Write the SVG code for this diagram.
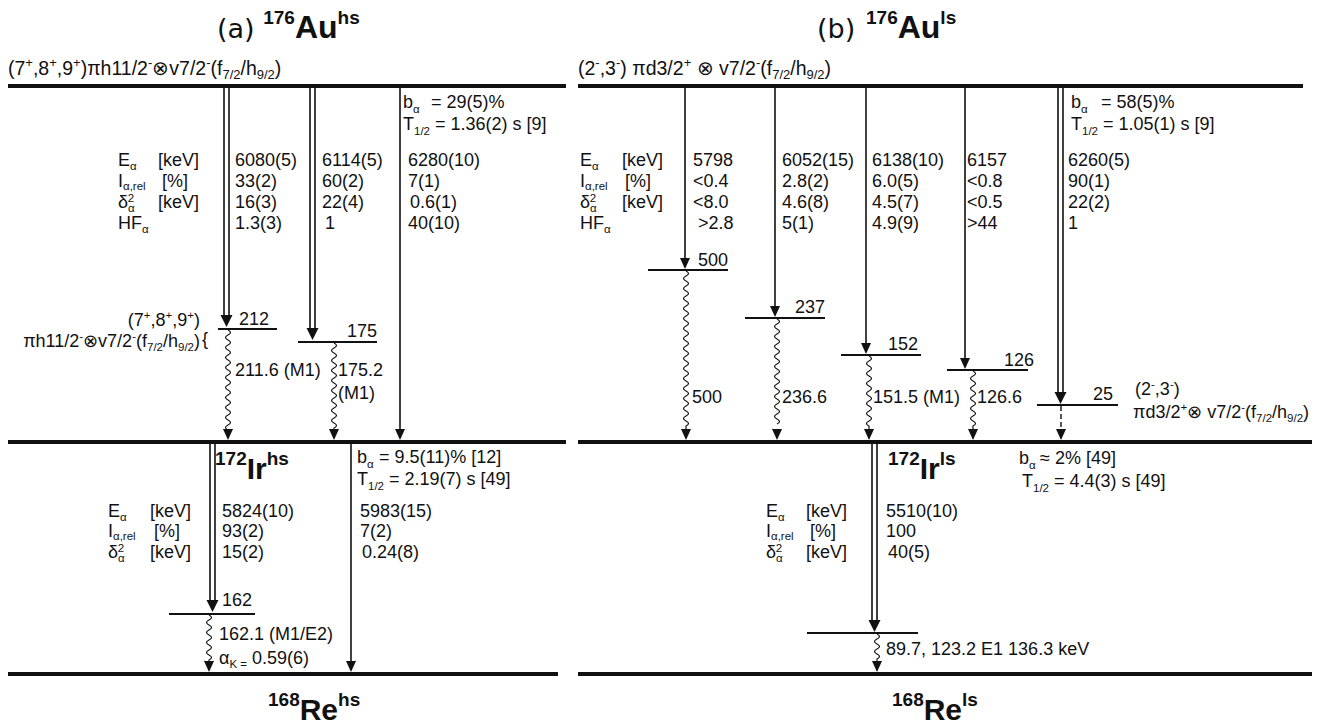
<svg xmlns="http://www.w3.org/2000/svg" xmlns:xlink="http://www.w3.org/1999/xlink" width="1343" height="728" viewBox="0 0 1343 728">
<style>
text{font-family:"Liberation Sans",Arial,sans-serif;font-size:18px;fill:#111}
.s{font-size:11.5px}
.hd{font-size:19.5px}
.hs{font-size:13px}
.bd{font-weight:bold}
.dj{font-family:"DejaVu Sans",sans-serif;font-size:27px;font-weight:normal}
.bar{stroke:#111;stroke-width:4;fill:none}
.lv{stroke:#111;stroke-width:2.2;fill:none}
.ar{stroke:#111;stroke-width:1.6;fill:none}
.wv{stroke:#111;stroke-width:1.2;fill:none}
.ds{stroke:#111;stroke-width:1.4;fill:none;stroke-dasharray:5 3}
</style>
<defs>
<path id="ah" d="M-5,-11 L5,-11 L0,0 Z" fill="#111"/>
<path id="ahw" d="M-6,-12 L6,-12 L0,0 Z" fill="#111"/>
</defs>
<rect width="1343" height="728" fill="#fff"/>

<g id="titles">
<text x="217" y="38"><tspan class="dj">(a) </tspan><tspan class="bd" font-size="19" dy="-14">176</tspan><tspan class="bd" font-size="32" dy="14">Au</tspan><tspan class="bd" font-size="19" dy="-14">hs</tspan></text>
<text x="817" y="38" class="dj">(b)</text>
<text x="866" y="38"><tspan class="bd" font-size="19" dy="-14">176</tspan><tspan class="bd" font-size="32" dy="14">Au</tspan><tspan class="bd" font-size="19" dy="-14">ls</tspan></text>
</g>

<!-- ===== LEFT PANEL ===== -->
<g id="au176hs">
<line class="bar" x1="8" y1="86" x2="566" y2="86"/>
<text x="8" y="75" class="hd">(7<tspan class="hs" dy="-8">+</tspan><tspan dy="8">,8</tspan><tspan class="hs" dy="-8">+</tspan><tspan dy="8">,9</tspan><tspan class="hs" dy="-8">+</tspan><tspan dy="8">)πh11/2</tspan><tspan class="hs" dy="-8">-</tspan><tspan dy="8">⊗v7/2</tspan><tspan class="hs" dy="-8">-</tspan><tspan dy="8">(f</tspan><tspan class="hs" dy="4">7/2</tspan><tspan dy="-4">/h</tspan><tspan class="hs" dy="4">9/2</tspan><tspan dy="-4">)</tspan></text>
<text x="403" y="108">b<tspan class="s" dy="5">α</tspan><tspan x="431" dy="-5">= 29(5)%</tspan></text>
<text x="403" y="130">T<tspan class="s" dy="5">1/2</tspan><tspan dy="-5"> = 1.36(2) s [9]</tspan></text>
</g>

<g id="table-hs-upper">
<text x="118" y="166">E<tspan class="s" dy="4">α</tspan></text><text x="158" y="166">[keV]</text>
<text x="118" y="187">I<tspan class="s" dy="3">α,rel</tspan></text><text x="162" y="187">[%]</text>
<text x="118" y="208">δ<tspan class="s" dy="4">α</tspan><tspan class="s" dx="-7" dy="-10">2</tspan></text><text x="158" y="208">[keV]</text>
<text x="118" y="229">HF<tspan class="s" dy="4">α</tspan></text>
<text x="235" y="166">6080(5)</text><text x="322" y="166">6114(5)</text><text x="408" y="166">6280(10)</text>
<text x="235" y="187">33(2)</text><text x="322" y="187">60(2)</text><text x="408" y="187">7(1)</text>
<text x="235" y="208">16(3)</text><text x="322" y="208">22(4)</text><text x="410" y="208">0.6(1)</text>
<text x="235" y="229">1.3(3)</text><text x="325" y="229">1</text><text x="408" y="229">40(10)</text>
</g>

<g id="lvl-212">
<line class="lv" x1="218" y1="329" x2="277" y2="329"/>
<text x="239" y="325">212</text>
<text x="200" y="326" text-anchor="end">(7<tspan class="s" dy="-7">+</tspan><tspan dy="7">,8</tspan><tspan class="s" dy="-7">+</tspan><tspan dy="7">,9</tspan><tspan class="s" dy="-7">+</tspan><tspan dy="7">)</tspan></text>
<text x="200" y="347" text-anchor="end">πh11/2<tspan class="s" dy="-7">-</tspan><tspan dy="7">⊗v7/2</tspan><tspan class="s" dy="-7">-</tspan><tspan dy="7">(f</tspan><tspan class="s" dy="4">7/2</tspan><tspan dy="-4">/h</tspan><tspan class="s" dy="4">9/2</tspan><tspan dy="-4">)</tspan></text>
<text x="202" y="345" font-size="22">{</text>
</g>
<g id="lvl-175">
<line class="lv" x1="298" y1="342" x2="377" y2="342"/>
<text x="347" y="337">175</text>
</g>

<g id="ir172hs">
<line class="bar" x1="8" y1="442" x2="566" y2="442"/>
<text x="215" y="479"><tspan class="bd" font-size="19" dy="-14">172</tspan><tspan class="bd" font-size="30" dy="14">Ir</tspan><tspan class="bd" font-size="19" dy="-14">hs</tspan></text>
<text x="357" y="463">b<tspan class="s" dy="5">α</tspan><tspan x="379" dy="-5">= 9.5(11)% [12]</tspan></text>
<text x="357" y="485">T<tspan class="s" dy="5">1/2</tspan><tspan dy="-5"> = 2.19(7) s [49]</tspan></text>
</g>

<g id="table-hs-lower">
<text x="108" y="517">E<tspan class="s" dy="4">α</tspan></text><text x="150" y="517">[keV]</text>
<text x="108" y="537">I<tspan class="s" dy="3">α,rel</tspan></text><text x="154" y="537">[%]</text>
<text x="108" y="558">δ<tspan class="s" dy="4">α</tspan><tspan class="s" dx="-7" dy="-10">2</tspan></text><text x="150" y="558">[keV]</text>
<text x="222" y="517">5824(10)</text><text x="360" y="517">5983(15)</text>
<text x="222" y="537">93(2)</text><text x="360" y="537">7(2)</text>
<text x="222" y="558">15(2)</text><text x="362" y="558">0.24(8)</text>
</g>

<g id="lvl-162">
<line class="lv" x1="169" y1="614" x2="255" y2="614"/>
<text x="222" y="606">162</text>
<text x="219" y="640">162.1 (M1/E2)</text>
<text x="219" y="664">α<tspan class="s" dy="4">K =</tspan><tspan dy="-4"> 0.59(6)</tspan></text>
</g>

<g id="re168hs">
<line class="bar" x1="8" y1="674" x2="558" y2="674"/>
<text x="268" y="720"><tspan class="bd" font-size="19" dy="-14">168</tspan><tspan class="bd" font-size="30" dy="14">Re</tspan><tspan class="bd" font-size="19" dy="-14">hs</tspan></text>
</g>

<g id="gamma-labels-left">
<text x="235" y="376">211.6 (M1)</text>
<text x="338" y="376">175.2</text>
<text x="338" y="399">(M1)</text>
</g>

<!-- ===== RIGHT PANEL ===== -->
<g id="au176ls">
<line class="bar" x1="578" y1="86" x2="1303" y2="86"/>
<text x="578" y="75" class="hd">(2<tspan class="hs" dy="-8">-</tspan><tspan dy="8">,3</tspan><tspan class="hs" dy="-8">-</tspan><tspan dy="8">) πd3/2</tspan><tspan class="hs" dy="-8">+</tspan><tspan dy="8"> ⊗ v7/2</tspan><tspan class="hs" dy="-8">-</tspan><tspan dy="8">(f</tspan><tspan class="hs" dy="4">7/2</tspan><tspan dy="-4">/h</tspan><tspan class="hs" dy="4">9/2</tspan><tspan dy="-4">)</tspan></text>
<text x="1071" y="108">b<tspan class="s" dy="5">α</tspan><tspan x="1101" dy="-5">= 58(5)%</tspan></text>
<text x="1071" y="130">T<tspan class="s" dy="5">1/2</tspan><tspan dy="-5"> = 1.05(1) s [9]</tspan></text>
</g>

<g id="table-ls-upper">
<text x="580" y="166">E<tspan class="s" dy="4">α</tspan></text><text x="622" y="166">[keV]</text>
<text x="580" y="187">I<tspan class="s" dy="3">α,rel</tspan></text><text x="625" y="187">[%]</text>
<text x="580" y="208">δ<tspan class="s" dy="4">α</tspan><tspan class="s" dx="-7" dy="-10">2</tspan></text><text x="622" y="208">[keV]</text>
<text x="580" y="229">HF<tspan class="s" dy="4">α</tspan></text>
<text x="693" y="166">5798</text><text x="782" y="166">6052(15)</text><text x="872" y="166">6138(10)</text><text x="967" y="166">6157</text><text x="1068" y="166">6260(5)</text>
<text x="693" y="187">&lt;0.4</text><text x="782" y="187">2.8(2)</text><text x="872" y="187">6.0(5)</text><text x="967" y="187">&lt;0.8</text><text x="1068" y="187">90(1)</text>
<text x="693" y="208">&lt;8.0</text><text x="782" y="208">4.6(8)</text><text x="872" y="208">4.5(7)</text><text x="967" y="208">&lt;0.5</text><text x="1068" y="208">22(2)</text>
<text x="698" y="229">&gt;2.8</text><text x="782" y="229">5(1)</text><text x="872" y="229">4.9(9)</text><text x="967" y="229">&gt;44</text><text x="1068" y="229">1</text>
</g>

<g id="lvl-500">
<line class="lv" x1="648" y1="270" x2="728" y2="270"/>
<text x="698" y="266">500</text>
</g>
<g id="lvl-237">
<line class="lv" x1="745" y1="318" x2="825" y2="318"/>
<text x="795" y="313">237</text>
</g>
<g id="lvl-152">
<line class="lv" x1="841" y1="355" x2="921" y2="355"/>
<text x="888" y="350">152</text>
</g>
<g id="lvl-126">
<line class="lv" x1="947" y1="370" x2="1028" y2="370"/>
<text x="1004" y="366">126</text>
</g>
<g id="lvl-25">
<line class="lv" x1="1037" y1="405" x2="1118" y2="405"/>
<text x="1093" y="400">25</text>
<text x="1135" y="395">(2<tspan class="s" dy="-7">-</tspan><tspan dy="7">,3</tspan><tspan class="s" dy="-7">-</tspan><tspan dy="7">)</tspan></text>
<text x="1133" y="418">πd3/2<tspan class="s" dy="-7">+</tspan><tspan dy="7">⊗ v7/2</tspan><tspan class="s" dy="-7">-</tspan><tspan dy="7">(f</tspan><tspan class="s" dy="4">7/2</tspan><tspan dy="-4">/h</tspan><tspan class="s" dy="4">9/2</tspan><tspan dy="-4">)</tspan></text>
</g>

<g id="gamma-labels-right">
<text x="692" y="403">500</text>
<text x="782" y="403">236.6</text>
<text x="873" y="403">151.5 (M1)</text>
<text x="977" y="403">126.6</text>
</g>

<g id="ir172ls">
<line class="bar" x1="578" y1="442" x2="1312" y2="442"/>
<text x="888" y="479"><tspan class="bd" font-size="19" dy="-14">172</tspan><tspan class="bd" font-size="30" dy="14">Ir</tspan><tspan class="bd" font-size="19" dy="-14">ls</tspan></text>
<text x="1019" y="464">b<tspan class="s" dy="5">α</tspan><tspan x="1040" dy="-5">≈ 2% [49]</tspan></text>
<text x="1022" y="487">T<tspan class="s" dy="5">1/2</tspan><tspan dy="-5"> = 4.4(3) s [49]</tspan></text>
</g>

<g id="table-ls-lower">
<text x="766" y="517">E<tspan class="s" dy="4">α</tspan></text><text x="806" y="517">[keV]</text>
<text x="766" y="537">I<tspan class="s" dy="3">α,rel</tspan></text><text x="810" y="537">[%]</text>
<text x="766" y="558">δ<tspan class="s" dy="4">α</tspan><tspan class="s" dx="-7" dy="-10">2</tspan></text><text x="806" y="558">[keV]</text>
<text x="886" y="517">5510(10)</text>
<text x="886" y="537">100</text>
<text x="888" y="558">40(5)</text>
</g>

<g id="lvl-ls-lower">
<line class="lv" x1="807" y1="633" x2="918" y2="633"/>
<text x="886" y="655">89.7, 123.2 E1 136.3 keV</text>
</g>

<g id="re168ls">
<line class="bar" x1="578" y1="674" x2="1312" y2="674"/>
<text x="892" y="720"><tspan class="bd" font-size="19" dy="-14">168</tspan><tspan class="bd" font-size="30" dy="14">Re</tspan><tspan class="bd" font-size="19" dy="-14">ls</tspan></text>
</g>

<!-- ===== CONNECTORS ===== -->
<g id="connectors">
<path class="ar" d="M224,88 V315 M229,88 V315"/><use xlink:href="#ahw" x="226.5" y="327"/>
<path class="ar" d="M310,88 V328 M315,88 V328"/><use xlink:href="#ahw" x="312.5" y="340"/>
<path class="ar" d="M400,88 V429"/><use xlink:href="#ah" x="400" y="440"/>
<path class="wv" d="M228,330 q5,2.5 0,5 t0,5 t0,5 t0,5 t0,5 t0,5 t0,5 t0,5 t0,5 t0,5 t0,5 t0,5 t0,5 t0,5 t0,5 t0,5 t0,5 t0,5 t0,5 t0,5"/><use xlink:href="#ah" x="228" y="440"/>
<path class="wv" d="M334,343 q5,2.5 0,5 t0,5 t0,5 t0,5 t0,5 t0,5 t0,5 t0,5 t0,5 t0,5 t0,5 t0,5 t0,5 t0,5 t0,5 t0,5 t0,5 l0,1"/><use xlink:href="#ah" x="334" y="440"/>
<path class="ar" d="M210,444 V600 M215,444 V600"/><use xlink:href="#ahw" x="212.5" y="612"/>
<path class="ar" d="M351,444 V661"/><use xlink:href="#ah" x="351" y="672"/>
<path class="wv" d="M209,615 q5,2.5 0,5 t0,5 t0,5 t0,5 t0,5 t0,5 t0,5 t0,5 t0,5 l0,1"/><use xlink:href="#ah" x="209" y="672"/>
<path class="ar" d="M685,88 V258"/><use xlink:href="#ah" x="685" y="269"/>
<path class="ar" d="M775,88 V306"/><use xlink:href="#ah" x="775" y="317"/>
<path class="ar" d="M866,88 V343"/><use xlink:href="#ah" x="866" y="354"/>
<path class="ar" d="M965,88 V358"/><use xlink:href="#ah" x="965" y="369"/>
<path class="ar" d="M1058,88 V392 M1063,88 V392"/><use xlink:href="#ahw" x="1060.5" y="404"/>
<path class="wv" d="M686,271 q5,2.5 0,5 t0,5 t0,5 t0,5 t0,5 t0,5 t0,5 t0,5 t0,5 t0,5 t0,5 t0,5 t0,5 t0,5 t0,5 t0,5 t0,5 t0,5 t0,5 t0,5 t0,5 t0,5 t0,5 t0,5 t0,5 t0,5 t0,5 t0,5 t0,5 t0,5 t0,5 l0,3"/><use xlink:href="#ah" x="686" y="440"/>
<path class="wv" d="M777,319 q5,2.5 0,5 t0,5 t0,5 t0,5 t0,5 t0,5 t0,5 t0,5 t0,5 t0,5 t0,5 t0,5 t0,5 t0,5 t0,5 t0,5 t0,5 t0,5 t0,5 t0,5 t0,5"/><use xlink:href="#ah" x="777" y="440"/>
<path class="wv" d="M869,356 q5,2.5 0,5 t0,5 t0,5 t0,5 t0,5 t0,5 t0,5 t0,5 t0,5 t0,5 t0,5 t0,5 t0,5 t0,5 l0,3"/><use xlink:href="#ah" x="869" y="440"/>
<path class="wv" d="M973,371 q5,2.5 0,5 t0,5 t0,5 t0,5 t0,5 t0,5 t0,5 t0,5 t0,5 t0,5 t0,5 l0,3"/><use xlink:href="#ah" x="973" y="440"/>
<path class="ds" d="M1061,406 V429"/><use xlink:href="#ah" x="1061" y="440"/>
<path class="ar" d="M872,444 V620 M877,444 V620"/><use xlink:href="#ahw" x="874.5" y="632"/>
<path class="wv" d="M877,634 q5,2.5 0,5 t0,5 t0,5 t0,5 t0,5 l0,2"/><use xlink:href="#ah" x="877" y="672"/>
</g>
</svg>
